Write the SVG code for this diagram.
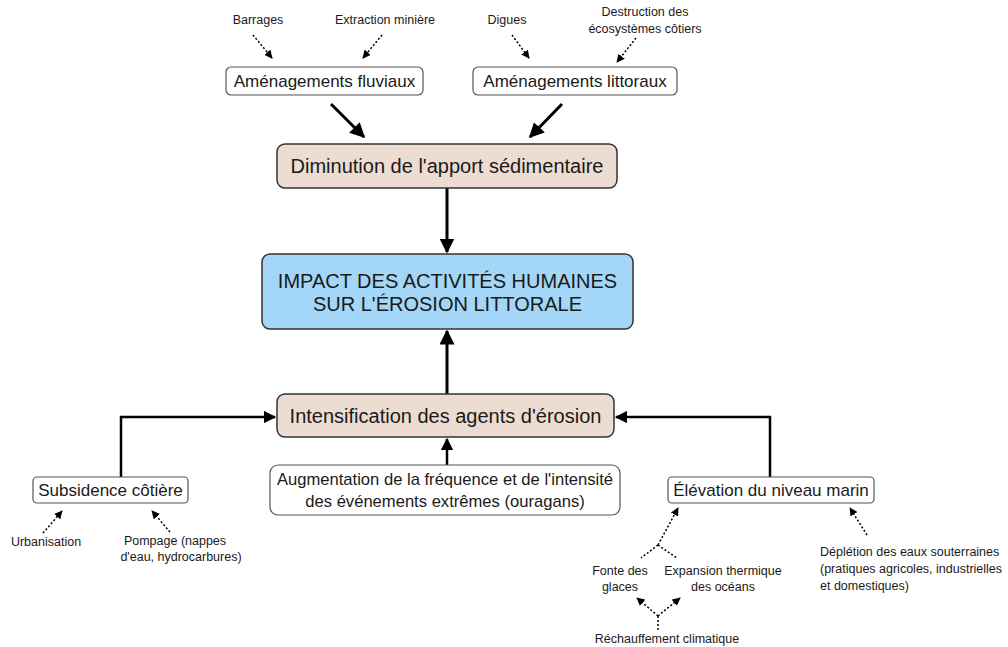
<svg xmlns="http://www.w3.org/2000/svg" width="1008" height="647" viewBox="0 0 1008 647">
<style>
text{font-family:"Liberation Sans",Arial,sans-serif;fill:#1a1a1a}
.s{font-size:12.5px}
.m{font-size:17px}
.a{font-size:16.6px}
.l{font-size:20px}
.box{fill:#fff;stroke:#555;stroke-width:1.2}
.beige{fill:#ecdcd1;stroke:#333;stroke-width:1.5}
.blue{fill:#a3d6f7;stroke:#333;stroke-width:1.5}
.thick{fill:none;stroke:#000;stroke-width:3}
.thin{fill:none;stroke:#000;stroke-width:2.5}
.dot{fill:none;stroke:#000;stroke-width:1.5;stroke-dasharray:2 2}
</style>
<defs>
<marker id="ah" viewBox="0 0 10 10" refX="9" refY="5" markerWidth="5" markerHeight="5" orient="auto" markerUnits="strokeWidth"><path d="M0,0L10,5L0,10z" fill="#000"/></marker>
<marker id="ad" viewBox="0 0 10 10" refX="9" refY="5" markerWidth="5.5" markerHeight="5.5" orient="auto" markerUnits="strokeWidth"><path d="M0,0L10,5L0,10z" fill="#000"/></marker>
</defs>
<g id="connectors">
<line class="thick" x1="331" y1="104" x2="364" y2="137" marker-end="url(#ah)"/>
<line class="thick" x1="562" y1="104" x2="530" y2="137" marker-end="url(#ah)"/>
<line class="thick" x1="447" y1="188" x2="447" y2="252" marker-end="url(#ah)"/>
<line class="thick" x1="447" y1="394" x2="447" y2="331" marker-end="url(#ah)"/>
<line class="thin" x1="447" y1="465" x2="447" y2="439" marker-end="url(#ah)"/>
<polyline class="thin" points="121,477 121,417 275,417" marker-end="url(#ah)"/>
<polyline class="thin" points="770,477 770,417 616,417" marker-end="url(#ah)"/>
<line class="dot" x1="253" y1="35" x2="272" y2="58" marker-end="url(#ad)"/>
<line class="dot" x1="382" y1="35" x2="363" y2="58" marker-end="url(#ad)"/>
<line class="dot" x1="512" y1="35" x2="529" y2="58" marker-end="url(#ad)"/>
<line class="dot" x1="636" y1="38" x2="617" y2="62" marker-end="url(#ad)"/>
<line class="dot" x1="43" y1="533" x2="62" y2="511" marker-end="url(#ad)"/>
<line class="dot" x1="170" y1="532" x2="152" y2="511" marker-end="url(#ad)"/>
<line class="dot" x1="658" y1="545" x2="678" y2="508" marker-end="url(#ad)"/>
<line class="dot" x1="658" y1="545" x2="641" y2="558"/>
<line class="dot" x1="658" y1="545" x2="677" y2="558"/>
<line class="dot" x1="867" y1="535" x2="850" y2="508" marker-end="url(#ad)"/>
<line class="dot" x1="658" y1="630" x2="658" y2="616"/>
<line class="dot" x1="658" y1="616" x2="637" y2="598" marker-end="url(#ad)"/>
<line class="dot" x1="658" y1="616" x2="680" y2="598" marker-end="url(#ad)"/>
</g>
<g id="barrages"><text class="s" x="258" y="24" text-anchor="middle">Barrages</text></g>
<g id="extraction"><text class="s" x="385" y="24" text-anchor="middle">Extraction minière</text></g>
<g id="digues"><text class="s" x="507" y="24" text-anchor="middle">Digues</text></g>
<g id="destruction"><text class="s" x="645" y="16" text-anchor="middle">Destruction des</text><text class="s" x="645" y="33" text-anchor="middle">écosystèmes côtiers</text></g>
<g id="fluviaux"><rect class="box" x="226" y="67" width="197" height="28" rx="5"/><text class="m" x="324.5" y="87" text-anchor="middle">Aménagements fluviaux</text></g>
<g id="littoraux"><rect class="box" x="473" y="67" width="204" height="28" rx="5"/><text class="m" x="575" y="87" text-anchor="middle">Aménagements littoraux</text></g>
<g id="diminution"><rect class="beige" x="277" y="144" width="340" height="44" rx="8"/><text class="l" x="447" y="173" text-anchor="middle">Diminution de l'apport sédimentaire</text></g>
<g id="impact"><rect class="blue" x="262" y="254" width="371" height="75" rx="8"/><text class="l" x="447.5" y="288" text-anchor="middle">IMPACT DES ACTIVITÉS HUMAINES</text><text class="l" x="447.5" y="311" text-anchor="middle">SUR L'ÉROSION LITTORALE</text></g>
<g id="intensification"><rect class="beige" x="277" y="394" width="337" height="43" rx="8"/><text class="l" x="445.5" y="423" text-anchor="middle">Intensification des agents d'érosion</text></g>
<g id="augmentation"><rect class="box" x="270" y="465" width="350" height="50" rx="8"/><text class="a" x="445" y="485" text-anchor="middle">Augmentation de la fréquence et de l'intensité</text><text class="a" x="445" y="507" text-anchor="middle">des événements extrêmes (ouragans)</text></g>
<g id="subsidence"><rect class="box" x="33" y="477" width="155" height="26" rx="4"/><text class="m" x="110.5" y="496" text-anchor="middle">Subsidence côtière</text></g>
<g id="elevation"><rect class="box" x="668" y="477" width="206" height="26" rx="4"/><text class="m" x="771" y="496" text-anchor="middle">Élévation du niveau marin</text></g>
<g id="urbanisation"><text class="s" x="46" y="546" text-anchor="middle">Urbanisation</text></g>
<g id="pompage"><text class="s" x="175" y="545" text-anchor="middle">Pompage (nappes</text><text class="s" x="181" y="561" text-anchor="middle">d'eau, hydrocarbures)</text></g>
<g id="fonte"><text class="s" x="620" y="575" text-anchor="middle">Fonte des</text><text class="s" x="620" y="591" text-anchor="middle">glaces</text></g>
<g id="expansion"><text class="s" x="723" y="575" text-anchor="middle">Expansion thermique</text><text class="s" x="723" y="591" text-anchor="middle">des océans</text></g>
<g id="rechauffement"><text class="s" x="667" y="643" text-anchor="middle">Réchauffement climatique</text></g>
<g id="depletion"><text class="s" x="820" y="556">Déplétion des eaux souterraines</text><text class="s" x="820" y="573">(pratiques agricoles, industrielles</text><text class="s" x="820" y="590">et domestiques)</text></g>
</svg>
